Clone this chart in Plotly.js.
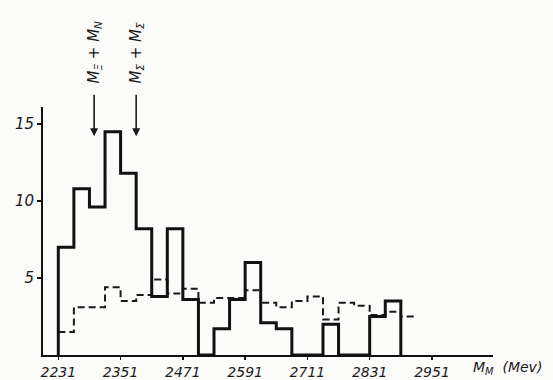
<!DOCTYPE html>
<html>
<head>
<meta charset="utf-8">
<script src="https://cdn.plot.ly/plotly-3.0.1.min.js"></script>
<style>html,body{margin:0;padding:0;background:#fbfbfa;}#chart{width:553px;height:380px;}</style>
</head>
<body>
<div id="chart"></div>
<script>
// Bin left edges (MeV), bin width 30 MeV
var solidBins = [2231,2261,2291,2321,2351,2381,2411,2441,2471,2501,2531,2561,2591,2621,2651,2681,2711,2741,2771,2801,2831,2861,2891];
var solidCounts = [7.0,10.8,9.6,14.5,11.8,8.2,3.8,8.2,3.6,0,1.7,3.6,6.0,2.1,1.7,0,0,2.0,0,0,2.5,3.5];
var dashedBins = [2231,2261,2291,2321,2351,2381,2411,2441,2471,2501,2531,2561,2591,2621,2651,2681,2711,2741,2771,2801,2831,2861,2891,2921];
var dashedCounts = [1.5,3.1,3.1,4.4,3.5,3.9,4.9,4.0,4.3,3.4,3.7,3.7,4.2,3.4,3.1,3.5,3.8,2.3,3.4,3.2,2.6,2.8,2.5];
var xTicks = [2231,2351,2471,2591,2711,2831,2951];
var yTicks = [5,10,15];
var thresholds = [2300,2381];
var thresholdLabels = ['M<sub>Ξ</sub> + M<sub>N</sub>','M<sub>Σ</sub> + M<sub>Σ</sub>'];

var sx = [solidBins[0]].concat(solidBins);
var sy = [0].concat(solidCounts).concat([0]);
var dx = dashedBins.slice();
var dy = dashedCounts.concat([dashedCounts[dashedCounts.length-1]]);

var fam = 'DejaVu Sans, Liberation Sans, sans-serif';
var font = {family:fam, size:14, color:'#1a1a1a', style:'italic'};

var traces = [
  {x:dx, y:dy, type:'scatter', mode:'lines', line:{shape:'hv', color:'#1a1a1a', width:2, dash:'7px,4px'}, hoverinfo:'skip'},
  {x:sx, y:sy, type:'scatter', mode:'lines', line:{shape:'hv', color:'#111', width:3}, hoverinfo:'skip'}
];

var annotations = [];
for (var i=0;i<thresholds.length;i++){
  annotations.push({x:thresholds[i], y:14.2, xref:'x', yref:'y', ax:thresholds[i], ay:17.0, axref:'x', ayref:'y',
    showarrow:true, arrowhead:2, arrowsize:1, arrowwidth:1.6, arrowcolor:'#1a1a1a', text:''});
  annotations.push({x:thresholds[i], y:1.22, xref:'x', yref:'paper', xanchor:'center', yanchor:'middle',
    text:thresholdLabels[i], textangle:-90,
    showarrow:false, font:{family:fam, size:15, color:'#1a1a1a', style:'italic'}});
}
annotations.push({x:1, y:0, xref:'paper', yref:'paper', xanchor:'left', yanchor:'top', xshift:-22, yshift:-2,
  text:'M<sub>M</sub>  (Mev)', showarrow:false, font:{family:fam, size:14, color:'#1a1a1a', style:'italic'}});

var layout = {
  width:553, height:380,
  margin:{l:43, r:60, t:107, b:25, pad:0},
  paper_bgcolor:'#fbfbfa', plot_bgcolor:'#fbfbfa',
  showlegend:false,
  xaxis:{range:[2201.5,3068.6], tickvals:xTicks, ticktext:xTicks.map(String), showgrid:false, zeroline:false,
    showline:true, linecolor:'#111', linewidth:2, ticks:'outside', ticklen:3, tickwidth:1.5, tickcolor:'#111',
    tickfont:font},
  yaxis:{range:[0,16.1], tickvals:yTicks, ticktext:yTicks.map(String), showgrid:false, zeroline:false,
    showline:true, linecolor:'#111', linewidth:2, ticks:'outside', ticklen:4, tickwidth:1.5, tickcolor:'#111',
    tickfont:{family:fam, size:15, color:'#1a1a1a', style:'italic'}},
  annotations:annotations
};

Plotly.newPlot('chart', traces, layout, {staticPlot:true});
</script>
</body>
</html>
